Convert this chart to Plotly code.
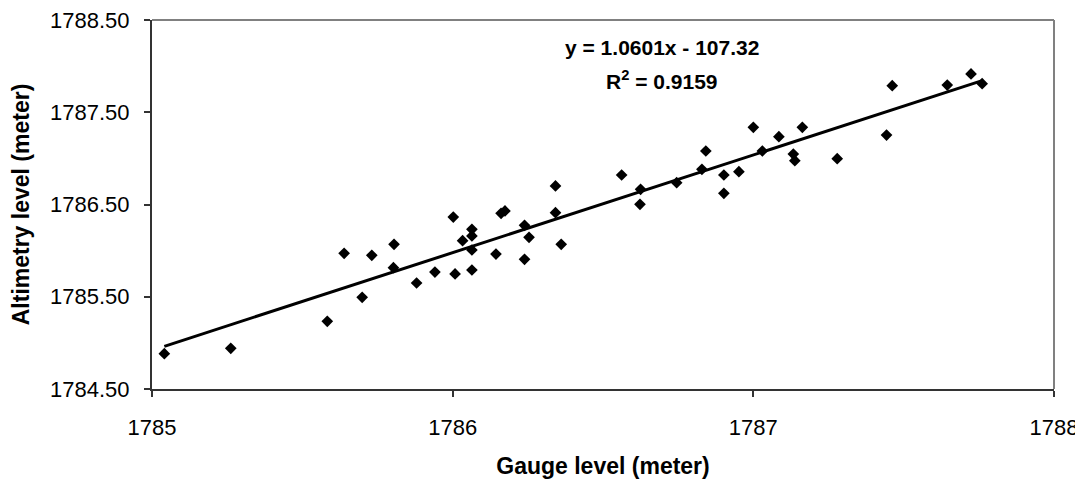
import numpy as np
import plotly.graph_objects as go

gauge_level = [
    1785.041, 1785.262, 1785.583, 1785.639, 1785.699, 1785.731, 1785.805, 1785.803,
    1785.880, 1785.941, 1786.008, 1786.002, 1786.064, 1786.033, 1786.064, 1786.064,
    1786.064, 1786.144, 1786.161, 1786.174, 1786.239, 1786.239, 1786.254, 1786.342,
    1786.342, 1786.361, 1786.562, 1786.625, 1786.623, 1786.745, 1786.829, 1786.842,
    1786.902, 1786.902, 1786.952, 1787.000, 1787.030, 1787.085, 1787.163, 1787.133,
    1787.138, 1787.279, 1787.443, 1787.462, 1787.645, 1787.724, 1787.761,
]
altimetry_level = [
    1784.883, 1784.941, 1785.234, 1785.971, 1785.494, 1785.949, 1786.068, 1785.815,
    1785.649, 1785.768, 1785.747, 1786.364, 1785.790, 1786.108, 1786.231, 1786.159,
    1786.007, 1785.963, 1786.404, 1786.430, 1786.274, 1785.906, 1786.144, 1786.701,
    1786.411, 1786.068, 1786.820, 1786.664, 1786.502, 1786.737, 1786.881, 1787.080,
    1786.820, 1786.621, 1786.856, 1787.337, 1787.080, 1787.235, 1787.337, 1787.047,
    1786.975, 1786.997, 1787.253, 1787.788, 1787.795, 1787.915, 1787.810,
]

x_ticks = [1785, 1786, 1787, 1788]
y_ticks = [1784.5, 1785.5, 1786.5, 1787.5, 1788.5]
equation_text = "y = 1.0601x - 107.32"
r2_text = "R<sup>2</sup> = 0.9159"

xa = np.array(gauge_level)
ya = np.array(altimetry_level)
slope, intercept = np.polyfit(xa, ya, 1)
line_x = np.array([xa.min(), xa.max()])
line_y = slope * line_x + intercept

fig = go.Figure()
fig.add_trace(go.Scatter(
    x=line_x, y=line_y, mode="lines",
    line=dict(color="black", width=3), showlegend=False, hoverinfo="skip",
))
fig.add_trace(go.Scatter(
    x=gauge_level, y=altimetry_level, mode="markers",
    marker=dict(symbol="diamond", size=9, color="black"),
    showlegend=False,
))

font_family = "Liberation Sans, Arial, sans-serif"

fig.add_annotation(
    x=0.565, y=0.962, xref="paper", yref="paper",
    text="<b>" + equation_text + "</b>", showarrow=False,
    font=dict(family=font_family, size=21, color="black"),
)
fig.add_annotation(
    x=0.565, y=0.878, xref="paper", yref="paper",
    text="<b>" + r2_text + "</b>", showarrow=False,
    font=dict(family=font_family, size=21, color="black"),
)

# top and right plot border (gray)
fig.add_shape(type="line", xref="paper", yref="paper", x0=0, x1=1, y0=1, y1=1,
              line=dict(color="#808080", width=2), layer="above")
fig.add_shape(type="line", xref="paper", yref="paper", x0=1, x1=1, y0=0, y1=1,
              line=dict(color="#808080", width=2), layer="above")

# page body has an 8px default margin; figure size compensates for it
fig.update_layout(
    width=1075, height=477,
    margin=dict(l=144, r=29, t=12, b=96),
    paper_bgcolor="white", plot_bgcolor="white",
    font=dict(family=font_family, color="black"),
)
fig.update_xaxes(
    range=[1785, 1788], tickvals=x_ticks, ticktext=[str(v) for v in x_ticks],
    showgrid=False, zeroline=False, automargin=False,
    showline=True, linecolor="#333333", linewidth=2,
    ticks="outside", ticklen=6, tickcolor="#333333", tickwidth=1.5,
    ticklabelstandoff=12, ticklabeloverflow="allow",
    tickfont=dict(size=22, family=font_family),
    title=dict(text="<b>Gauge level (meter)</b>", font=dict(size=23, family=font_family), standoff=18),
)
fig.update_yaxes(
    range=[1784.5, 1788.5], tickvals=y_ticks, ticktext=[f"{v:.2f}" for v in y_ticks],
    showgrid=False, zeroline=False, automargin=False,
    showline=True, linecolor="#333333", linewidth=2,
    ticks="outside", ticklen=6, tickcolor="#333333", tickwidth=1.5,
    ticklabelstandoff=10, ticklabeloverflow="allow",
    tickfont=dict(size=22, family=font_family),
    title=dict(text="<b>Altimetry level (meter)</b>", font=dict(size=23, family=font_family), standoff=14),
)

fig.write_html("out.html")
